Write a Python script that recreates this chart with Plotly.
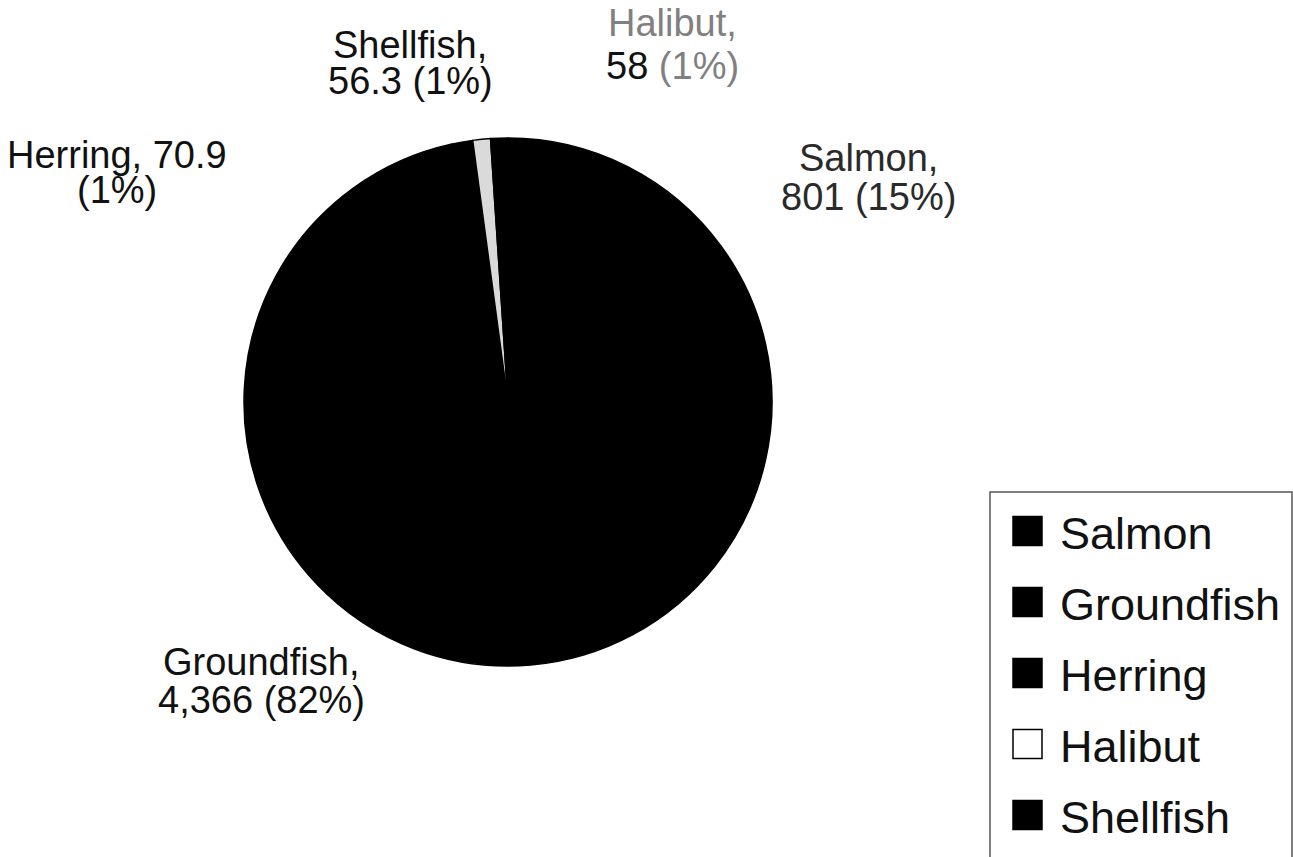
import plotly.graph_objects as go

# ---- data ----
categories = ["Salmon", "Groundfish", "Herring", "Halibut", "Shellfish"]
values = [801, 4366, 70.9, 58, 56.3]
slice_colors = ["#000000", "#000000", "#000000", "#dadada", "#000000"]
legend_fill = ["#000000", "#000000", "#000000", "#ffffff", "#000000"]

W, H = 1293, 857
FONT = "Liberation Sans, Arial, Helvetica, sans-serif"

def px(x):
    return x / W

def py(y):
    return 1 - y / H

total = sum(values)

def fmt(v):
    return f"{v:,.0f}" if float(v).is_integer() else f"{v:,}"

# pie geometry (pixels)
cx, cy, r = 508, 402, 264

fig = go.Figure(go.Pie(
    labels=categories,
    values=values,
    sort=False,
    direction="clockwise",
    rotation=0,
    textinfo="none",
    marker=dict(colors=slice_colors, line=dict(color="#000000", width=1.5)),
    domain=dict(x=[px(cx - r), px(cx + r)], y=[py(cy + r), py(cy - r)]),
    showlegend=False,
    hoverinfo="label+value+percent",
))

# label layout: (x center, line1 y, line2 y, split style)
label_pos = {
    "Salmon": (868, 158, 197, "comma"),
    "Groundfish": (261, 662, 700, "comma"),
    "Herring": (117, 155, 190, "value_first_line"),
    "Shellfish": (410, 45, 81, "comma"),
    "Halibut": (672, 23, 66, "comma"),
}
label_color = {
    "Salmon": "#2a2a2a", "Groundfish": "#111111", "Herring": "#111111",
    "Shellfish": "#111111", "Halibut": "#808080",
}

annotations = []
for name, v in zip(categories, values):
    pct = round(v / total * 100)
    x, y1, y2, style = label_pos[name]
    col = label_color[name]
    if style == "value_first_line":
        l1 = f"{name}, {fmt(v)}"
        l2 = f"({pct}%)"
    elif name == "Halibut":
        l1 = f"{name},"
        l2 = f"<span style='color:#111111'>{fmt(v)}</span> ({pct}%)"
    else:
        l1 = f"{name},"
        l2 = f"{fmt(v)} ({pct}%)"
    for txt, yy in ((l1, y1), (l2, y2)):
        annotations.append(dict(
            x=px(x), y=py(yy), xref="paper", yref="paper",
            text=txt, showarrow=False, xanchor="center", yanchor="middle",
            font=dict(family=FONT, size=38, color=col),
        ))

# manual legend
shapes = [dict(type="rect", xref="paper", yref="paper",
               x0=px(990), x1=px(1292), y0=py(492), y1=py(880),
               line=dict(color="#555555", width=1.5), fillcolor="rgba(0,0,0,0)")]
leg_y = [531, 602, 673, 744, 815]
sq = 29
for name, fc, yy in zip(categories, legend_fill, leg_y):
    shapes.append(dict(type="rect", xref="paper", yref="paper",
                       x0=px(1013), x1=px(1013 + sq), y0=py(yy + sq / 2), y1=py(yy - sq / 2),
                       fillcolor=fc, line=dict(color="#000000", width=1.5)))
    annotations.append(dict(
        x=px(1058), y=py(yy + 2), xref="paper", yref="paper", text=name,
        showarrow=False, xanchor="left", yanchor="middle",
        font=dict(family=FONT, size=45, color="#111111"),
    ))

fig.update_layout(
    width=W, height=H,
    margin=dict(l=0, r=0, t=0, b=0),
    paper_bgcolor="#ffffff",
    plot_bgcolor="#ffffff",
    annotations=annotations,
    shapes=shapes,
    showlegend=False,
)

fig.write_html("out.html", config={"displayModeBar": False})
